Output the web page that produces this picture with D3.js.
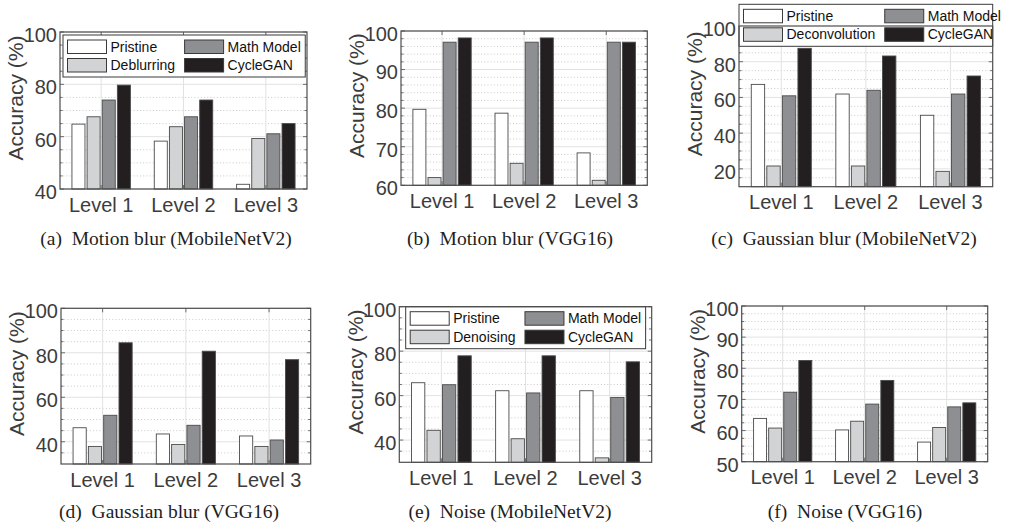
<!DOCTYPE html>
<meta charset="utf-8">
<style>
body { margin: 0; background: #fff; }
svg { display: block; }
.axis text { fill: #3c3c3c; font-family: "Liberation Sans", Arial, sans-serif; }
.caption { font-family: "Liberation Serif", "Times New Roman", serif; fill: #1e1e1e; white-space: pre; }
</style>
<body>
<svg width="1011" height="531"></svg>
<script src="https://cdn.jsdelivr.net/npm/d3@7"></script>
<script>
var levels = ["Level 1", "Level 2", "Level 3"];
var methodsBlur = ["Pristine", "Deblurring", "Math Model", "CycleGAN"];
var methodsGauss = ["Pristine", "Deconvolution", "Math Model", "CycleGAN"];
var methodsNoise = ["Pristine", "Denoising", "Math Model", "CycleGAN"];

// accuracy (%) per level: Pristine, restoration, Math Model, CycleGAN
var motionMobile = [[64.8, 67.6, 74.0, 79.7], [58.3, 63.8, 67.6, 74.0], [41.8, 59.3, 61.1, 65.0]];
var motionVgg = [[79.7, 62.0, 97.1, 98.2], [78.7, 65.7, 97.1, 98.2], [68.4, 61.3, 97.1, 97.1]];
var gaussMobile = [[67.3, 21.6, 60.9, 87.5], [61.9, 21.6, 64.0, 83.2], [50.0, 18.6, 61.9, 72.0]];
var gaussVgg = [[46.3, 37.9, 51.9, 84.5], [43.5, 38.8, 47.4, 80.7], [42.6, 37.9, 40.8, 76.9]];
var noiseMobile = [[65.8, 44.4, 64.9, 77.9], [62.2, 40.6, 61.2, 77.9], [62.2, 32.0, 59.2, 75.2]];
var noiseVgg = [[63.9, 60.8, 72.3, 82.5], [60.2, 63.0, 68.5, 76.1], [56.3, 61.0, 67.6, 68.9]];

var ticksA = [40, 60, 80, 100];
var ticksB = [60, 70, 80, 90, 100];
var ticksC = [20, 40, 60, 80, 100];
var ticksD = [40, 60, 80, 100];
var ticksE = [40, 60, 80, 100];
var ticksF = [50, 60, 70, 80, 90, 100];

var fills = ["#ffffff", "#d2d3d5", "#8e8f92", "#231f20"];

var panels = [
  {box: [60, 307, 32, 189], dom: [40, 100], ticks: ticksA, minor: 5, data: motionMobile,
   legend: methodsBlur, lx: 63, ly: 35, cap: "(a)\u2002Motion blur (MobileNetV2)", cx: 166, cy: 245},
  {box: [401, 647.3, 31, 185.3], dom: [60, 100], ticks: ticksB, minor: 2, data: motionVgg,
   legend: null, cap: "(b)\u2002Motion blur (VGG16)", cx: 510, cy: 245},
  {box: [739, 992.7, 26, 186.7], dom: [10, 100], ticks: ticksC, minor: 5, data: gaussMobile,
   legend: methodsGauss, lx: 739, ly: 4.3, lw: 253.7, cap: "(c)\u2002Gaussian blur (MobileNetV2)", cx: 844, cy: 245},
  {box: [61, 310.7, 308.3, 464], dom: [30, 100], ticks: ticksD, minor: 5, data: gaussVgg,
   legend: null, cap: "(d)\u2002Gaussian blur (VGG16)", cx: 169, cy: 518},
  {box: [399.3, 651.7, 306.7, 462.3], dom: [30, 100], ticks: ticksE, minor: 5, data: noiseMobile,
   legend: methodsNoise, lx: 405.7, ly: 306.7, cap: "(e)\u2002Noise (MobileNetV2)", cx: 510, cy: 518},
  {box: [741.7, 987.7, 306, 461.7], dom: [50, 100], ticks: ticksF, minor: 2.5, data: noiseVgg,
   legend: null, cap: "(f)\u2002Noise (VGG16)", cx: 845, cy: 518}
];

var svg = d3.select("svg");

panels.forEach(function(p) {
  var l = p.box[0], r = p.box[1], t = p.box[2], b = p.box[3];
  var g = svg.append("g");

  var x = d3.scaleBand().domain(levels).range([l, r]).padding(0);
  var groupW = x.bandwidth() * 0.71;
  var xi = d3.scaleBand().domain(d3.range(4)).range([0, groupW]).paddingInner(0.14);
  var y = d3.scaleLinear().domain(p.dom).range([b, t]);

  // minor dotted grid
  var minors = d3.range(p.dom[0], p.dom[1] + 0.001, p.minor).filter(function(v) {
    return p.ticks.indexOf(v) < 0 && v > p.dom[0] && v < p.dom[1];
  });
  g.selectAll(".minor").data(minors).enter().append("line")
    .attr("x1", l).attr("x2", r)
    .attr("y1", function(d) { return y(d); }).attr("y2", function(d) { return y(d); })
    .attr("stroke", "#bcbcbc").attr("stroke-width", 0.8).attr("stroke-dasharray", "1,2.2");
  // major grid
  g.selectAll(".major").data(p.ticks).enter().append("line")
    .attr("x1", l).attr("x2", r)
    .attr("y1", function(d) { return y(d); }).attr("y2", function(d) { return y(d); })
    .attr("stroke", "#e2e2e2").attr("stroke-width", 1);
  g.selectAll(".vgrid").data(levels).enter().append("line")
    .attr("x1", function(d) { return x(d) + x.bandwidth() / 2; })
    .attr("x2", function(d) { return x(d) + x.bandwidth() / 2; })
    .attr("y1", t).attr("y2", b)
    .attr("stroke", "#e2e2e2").attr("stroke-width", 1);

  // bars
  levels.forEach(function(lev, li) {
    var x0 = x(lev) + (x.bandwidth() - groupW) / 2;
    g.selectAll(".bar" + li).data(p.data[li]).enter().append("rect")
      .attr("x", function(d, i) { return x0 + xi(i); })
      .attr("y", function(d) { return y(d); })
      .attr("width", xi.bandwidth())
      .attr("height", function(d) { return b - y(d); })
      .attr("fill", function(d, i) { return fills[i]; })
      .attr("stroke", "#4a4a4a").attr("stroke-width", 0.9);
  });

  // inward tick marks
  var tm = g.append("g").attr("stroke", "#4d4d4d").attr("stroke-width", 0.8);
  minors.forEach(function(v) {
    tm.append("line").attr("x1", l).attr("x2", l + 2.5).attr("y1", y(v)).attr("y2", y(v));
    tm.append("line").attr("x1", r).attr("x2", r - 2.5).attr("y1", y(v)).attr("y2", y(v));
  });
  p.ticks.forEach(function(v) {
    tm.append("line").attr("x1", l).attr("x2", l + 4).attr("y1", y(v)).attr("y2", y(v));
    tm.append("line").attr("x1", r).attr("x2", r - 4).attr("y1", y(v)).attr("y2", y(v));
  });
  levels.forEach(function(lev) {
    var cx = x(lev) + x.bandwidth() / 2;
    tm.append("line").attr("x1", cx).attr("x2", cx).attr("y1", b).attr("y2", b - 4);
    tm.append("line").attr("x1", cx).attr("x2", cx).attr("y1", t).attr("y2", t + 4);
  });

  // legend
  if (p.legend) {
    var lg = g.append("g");
    var lbox = lg.append("rect").attr("x", p.lx).attr("y", p.ly).attr("height", 42)
      .attr("fill", "#fff").attr("stroke", "#3a3a3a").attr("stroke-width", 1);
    var cols = [[0, 1], [2, 3]];
    var colX = p.lx + 4.5;
    var endX = 0;
    cols.forEach(function(col) {
      var maxW = 0;
      col.forEach(function(mi, row) {
        var sy = p.ly + 5 + row * 18.5;
        lg.append("rect").attr("x", colX).attr("y", sy).attr("width", 39).attr("height", 13.5)
          .attr("fill", fills[mi]).attr("stroke", "#3a3a3a").attr("stroke-width", 1);
        var tx = lg.append("text").attr("x", colX + 43).attr("y", sy + 6.75).attr("dy", "0.35em")
          .attr("font-family", "'Liberation Sans', Arial, sans-serif").attr("font-size", 14)
          .attr("fill", "#111").text(p.legend[mi]);
        maxW = Math.max(maxW, tx.node().getComputedTextLength());
      });
      endX = colX + 43 + maxW;
      colX = endX + 9.5;
    });
    lbox.attr("width", p.lw ? p.lw : endX + 4.5 - p.lx);
  }

  // axes box
  g.append("rect").attr("x", l).attr("y", t).attr("width", r - l).attr("height", b - t)
    .attr("fill", "none").attr("stroke", "#4d4d4d").attr("stroke-width", 1.2);

  var ya = g.append("g").attr("class", "axis").attr("transform", "translate(" + l + ",0)")
    .call(d3.axisLeft(y).tickValues(p.ticks).tickSize(0).tickPadding(3));
  ya.select(".domain").remove();
  ya.selectAll("text").attr("font-size", 20).attr("y", 3);

  var xa = g.append("g").attr("class", "axis").attr("transform", "translate(0," + b + ")")
    .call(d3.axisBottom(x).tickSize(0).tickPadding(8.3));
  xa.select(".domain").remove();
  xa.selectAll("text").attr("font-size", 20);

  g.append("text").attr("class", "axis")
    .attr("transform", "translate(" + (l - 44) + "," + ((t + b) / 2 - 12.5) + ") rotate(-90)")
    .attr("text-anchor", "middle").attr("dy", "0.35em")
    .attr("font-family", "'Liberation Sans', Arial, sans-serif").attr("font-size", 21)
    .attr("fill", "#3c3c3c").text("Accuracy (%)");

  g.append("text").attr("class", "caption").attr("x", p.cx).attr("y", p.cy)
    .attr("text-anchor", "middle").attr("font-size", 19.5).text(p.cap);
});
</script>
</body>
